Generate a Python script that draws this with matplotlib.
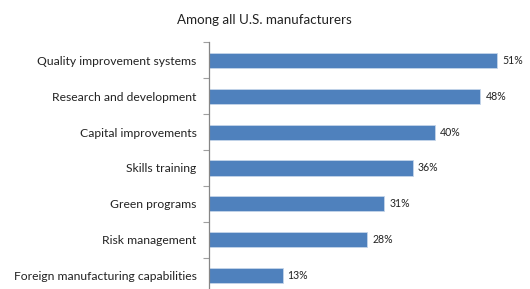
import matplotlib
matplotlib.use("Agg")
import matplotlib.pyplot as plt
import numpy as np

categories = ["Quality improvement systems", "Research and development",
              "Capital improvements", "Skills training", "Green programs",
              "Risk management", "Foreign manufacturing capabilities"]
values = [51, 48, 40, 36, 31, 28, 13]
value_labels = ["51%", "48%", "40%", "36%", "31%", "28%", "13%"]
subtitle = "Among all U.S. manufacturers"

plt.rcParams['font.family'] = ['Lato', 'DejaVu Sans']

fig = plt.figure(figsize=(5.30, 2.89), dpi=100)
ax = fig.add_axes([209/530, 1 - 293.5/289, 311/530, 251/289])

y = np.arange(len(categories))
ax.barh(y, values, height=0.42, color="#4F81BD", edgecolor="#C5D5EA", linewidth=0.6)
ax.set_ylim(len(categories) - 0.5, -0.5)
ax.set_xlim(0, 55)

for yi, v, lab in zip(y, values, value_labels):
    ax.text(v + 0.9, yi, lab, va="center", ha="left", fontsize=7.6, color="#222222")

ax.set_yticks(y)
ax.set_yticklabels(categories, fontsize=8.7, color="#222222")
ax.set_yticks(np.arange(-0.5, len(categories) + 0.5, 1), minor=True)
ax.tick_params(axis="y", which="major", length=0, pad=9)
ax.tick_params(axis="y", which="minor", length=4.5, color="#A0A0A0", width=0.8)
ax.set_xticks([])
for s in ["top", "right", "bottom"]:
    ax.spines[s].set_visible(False)
ax.spines["left"].set_color("#868686")
ax.spines["left"].set_linewidth(0.9)

fig.text(264/530, 1 - 20/289, subtitle, ha="center", va="center", fontsize=9.6, color="#222222")

fig.savefig("out.png", dpi=100)
